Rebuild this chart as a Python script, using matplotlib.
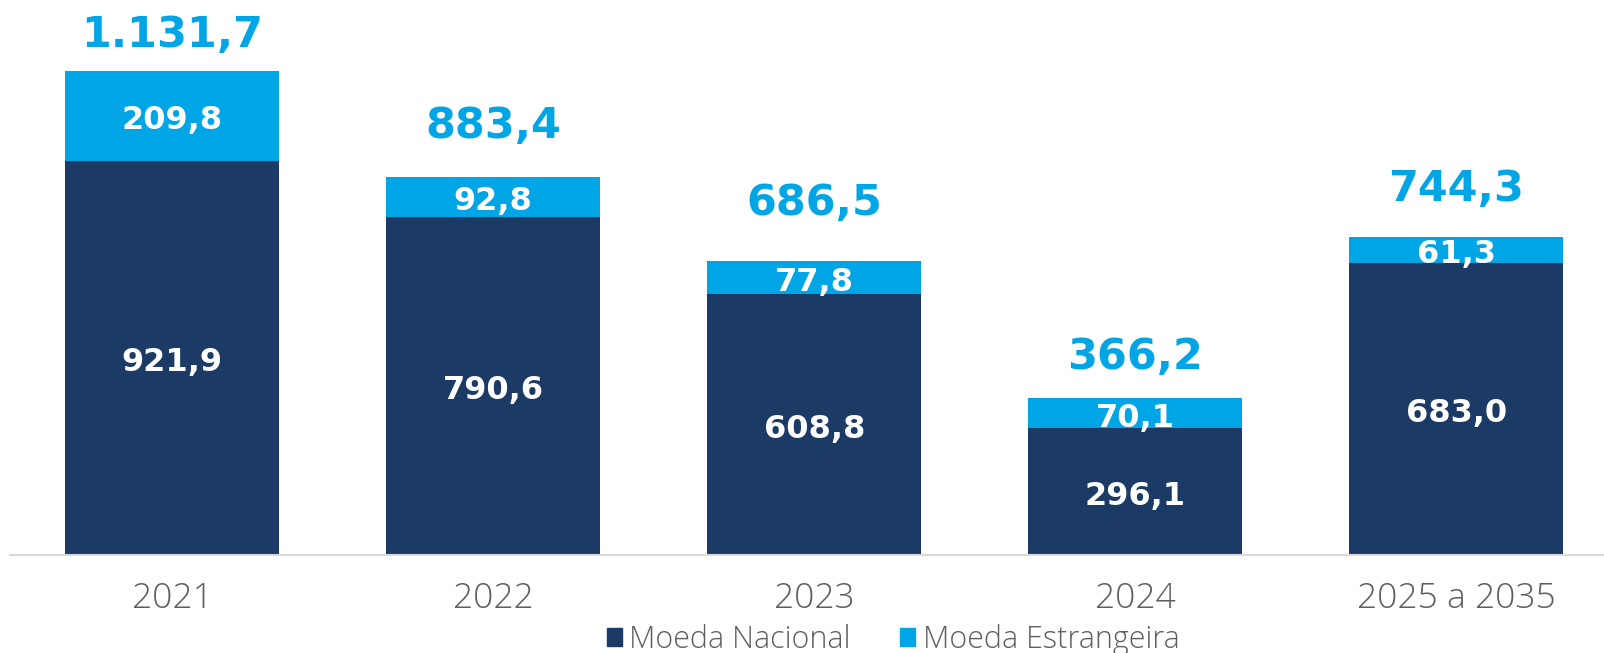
import matplotlib.pyplot as plt
from matplotlib.patches import Patch

categories = ["2021", "2022", "2023", "2024", "2025 a 2035"]
nacional = [921.9, 790.6, 608.8, 296.1, 683.0]
estrangeira = [209.8, 92.8, 77.8, 70.1, 61.3]
totais = [1131.7, 883.4, 686.5, 366.2, 744.3]

# distance of each total label above its bar, in points
total_offsets = [26, 37, 42, 30, 34]

DARK = "#1B3A66"
LIGHT = "#00A5E6"
GREY = "#5F5F5F"


def fmt(v):
    s = "{:,.1f}".format(v)
    return s.replace(",", "X").replace(".", ",").replace("X", ".")


plt.rcParams["font.family"] = ["Open Sans", "DejaVu Sans"]

fig = plt.figure(figsize=(16.04, 6.53), dpi=100)
ax = fig.add_axes([10 / 1604, 98 / 653, 1594 / 1604, 555 / 653])

x = list(range(len(categories)))
w = 0.667
ax.bar(x, nacional, width=w, color=DARK, zorder=2)
ax.bar(x, estrangeira, width=w, bottom=nacional, color=LIGHT, zorder=2)

num_font = dict(family="DejaVu Sans", fontweight="bold")
for i in x:
    ax.annotate(fmt(nacional[i]), (i, nacional[i] / 2), xytext=(0, -3.5),
                textcoords="offset points", ha="center", va="center",
                color="white", fontsize=23, **num_font)
    ax.annotate(fmt(estrangeira[i]), (i, nacional[i] + estrangeira[i] / 2),
                xytext=(0, -3.5), textcoords="offset points", ha="center",
                va="center", color="white", fontsize=23, **num_font)
    ax.annotate(fmt(totais[i]), (i, nacional[i] + estrangeira[i]),
                xytext=(0, total_offsets[i]), textcoords="offset points",
                ha="center", va="center", color=LIGHT, fontsize=31, **num_font)

ax.set_xlim(-0.505, 4.46)
ax.set_ylim(0, 1297)
ax.set_xticks(x)
ax.set_xticklabels(categories, fontsize=25.5, color=GREY, fontweight="light")
ax.tick_params(axis="x", length=0, pad=19)
ax.set_yticks([])
for s in ["top", "right", "left"]:
    ax.spines[s].set_visible(False)
ax.spines["bottom"].set_color("#D9D9D9")
ax.spines["bottom"].set_linewidth(1.5)

handles = [Patch(color=DARK, label="Moeda Nacional"),
           Patch(color=LIGHT, label="Moeda Estrangeira")]
leg = fig.legend(handles=handles, loc="center",
                 bbox_to_anchor=(893 / 1604, 1 - 640 / 653),
                 ncol=2, frameon=False, fontsize=22, labelcolor=GREY,
                 handlelength=0.5, handleheight=0.5, handletextpad=0.25,
                 columnspacing=1.6, borderpad=0)
for t in leg.get_texts():
    t.set_fontweight("light")

fig.savefig("out.png", dpi=100)
